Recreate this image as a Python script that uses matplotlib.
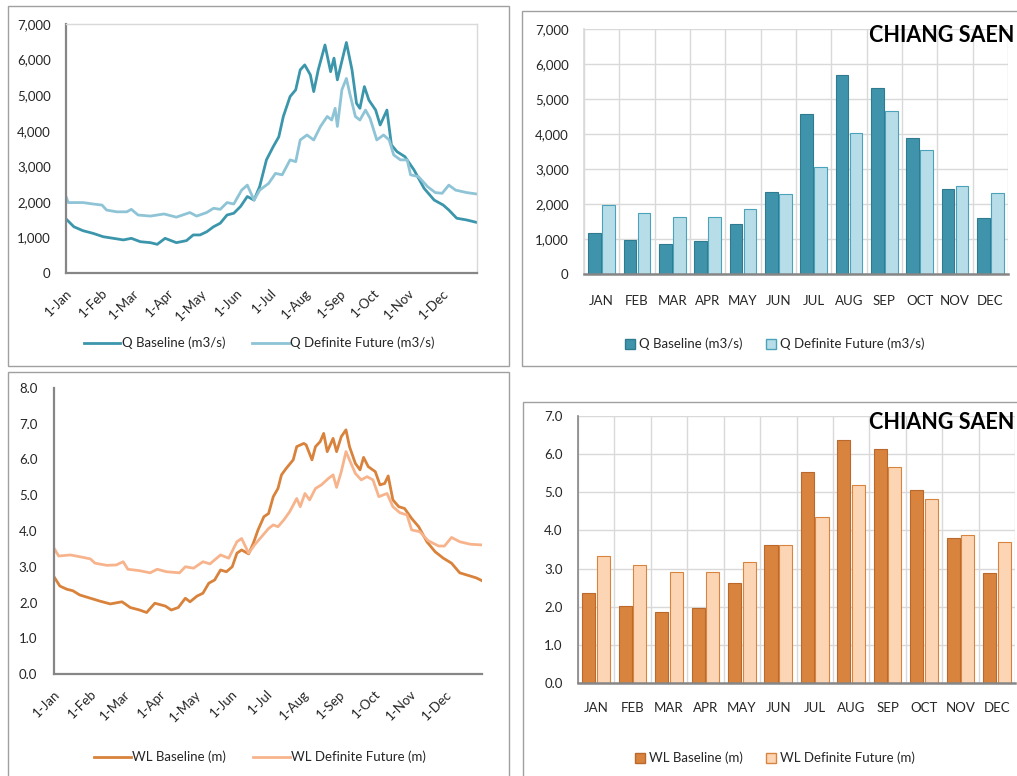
import matplotlib
matplotlib.use("Agg")
import matplotlib.pyplot as plt
from matplotlib.patches import Rectangle, Patch
from matplotlib.lines import Line2D
from matplotlib.ticker import FuncFormatter, MultipleLocator

plt.rcParams['font.family'] = ['Lato', 'DejaVu Sans']

# ---------------- data ----------------
months = ["JAN", "FEB", "MAR", "APR", "MAY", "JUN", "JUL", "AUG", "SEP", "OCT", "NOV", "DEC"]
date_labels = ["1-Jan", "1-Feb", "1-Mar", "1-Apr", "1-May", "1-Jun", "1-Jul", "1-Aug", "1-Sep", "1-Oct", "1-Nov", "1-Dec"]
date_ticks = [0, 31, 59, 90, 120, 151, 181, 212, 243, 273, 304, 334]

q_base_month = [1180, 980, 870, 935, 1440, 2345, 4575, 5700, 5325, 3890, 2430, 1590]
q_fut_month = [1965, 1745, 1620, 1620, 1850, 2290, 3060, 4030, 4670, 3535, 2505, 2315]
wl_base_month = [2.35, 2.02, 1.86, 1.97, 2.62, 3.63, 5.53, 6.37, 6.13, 5.07, 3.79, 2.89]
wl_fut_month = [3.32, 3.10, 2.92, 2.92, 3.16, 3.63, 4.36, 5.18, 5.67, 4.82, 3.87, 3.69]

q_base_day = [0, 7, 15, 24, 33, 42, 51, 58, 66, 75, 81, 88, 98, 107, 113, 119, 125, 131, 137, 143,
              149, 155, 161, 167, 172, 178, 184, 189, 193, 199, 204, 208, 212, 217, 220, 224, 230,
              235, 238, 241, 247, 249, 254, 258, 261, 265, 269, 275, 279, 285, 289, 294, 301, 309,
              318, 327, 335, 340, 347, 356, 365]
q_base_val = [1520, 1300, 1190, 1115, 1020, 975, 930, 975, 880, 853, 806, 975, 853, 910, 1070, 1070,
              1160, 1300, 1400, 1630, 1680, 1870, 2150, 2050, 2430, 3180, 3550, 3830, 4400, 4960,
              5150, 5710, 5850, 5570, 5100, 5710, 6410, 5660, 6040, 5430, 6220, 6480, 5710, 4770,
              4630, 5240, 4860, 4580, 4160, 4580, 3600, 3410, 3270, 2900, 2380, 2050, 1910, 1770,
              1540, 1490, 1420]

q_fut_day = [0, 2, 15, 24, 32, 36, 45, 54, 58, 64, 75, 87, 98, 110, 116, 125, 131, 137, 143, 149,
             156, 161, 167, 172, 180, 186, 192, 199, 204, 208, 214, 220, 226, 232, 236, 239, 241,
             245, 249, 252, 257, 261, 266, 270, 276, 282, 287, 291, 297, 303, 306, 313, 321, 328,
             334, 340, 346, 356, 365]
q_fut_val = [2150, 1980, 1980, 1940, 1910, 1770, 1720, 1720, 1790, 1630, 1600, 1660, 1570, 1700,
             1600, 1700, 1820, 1790, 1980, 1940, 2330, 2470, 2050, 2330, 2520, 2800, 2760, 3180,
             3130, 3740, 3880, 3740, 4120, 4400, 4300, 4630, 4120, 5150, 5470, 5050, 4400, 4300,
             4580, 4350, 3740, 3880, 3740, 3320, 3180, 3180, 2760, 2710, 2430, 2260, 2240, 2470,
             2330, 2260, 2220]

wl_base_day = [0, 5, 11, 16, 22, 31, 39, 48, 58, 65, 73, 79, 86, 95, 100, 106, 112, 116, 122, 127,
               132, 137, 142, 147, 152, 156, 160, 166, 170, 174, 179, 183, 187, 191, 194, 198, 204,
               207, 213, 215, 220, 223, 227, 230, 233, 238, 241, 245, 249, 252, 257, 261, 264, 268,
               274, 278, 282, 285, 289, 294, 299, 305, 311, 318, 325, 332, 339, 346, 355, 360, 365]
wl_base_val = [2.72, 2.46, 2.37, 2.33, 2.21, 2.12, 2.04, 1.96, 2.02, 1.86, 1.79, 1.72, 1.98, 1.90,
               1.79, 1.86, 2.12, 2.02, 2.18, 2.26, 2.54, 2.63, 2.91, 2.86, 3.00, 3.38, 3.47, 3.36,
               3.66, 4.03, 4.40, 4.49, 4.96, 5.19, 5.57, 5.75, 5.99, 6.36, 6.45, 6.41, 5.99, 6.36,
               6.50, 6.73, 6.22, 6.59, 6.22, 6.64, 6.83, 6.36, 5.89, 5.71, 6.06, 5.80, 5.66, 5.29,
               5.33, 5.54, 4.87, 4.68, 4.63, 4.35, 4.12, 3.70, 3.42, 3.24, 3.10, 2.83, 2.74, 2.69,
               2.61]

wl_fut_day = [0, 4, 14, 22, 31, 35, 45, 53, 59, 63, 73, 82, 88, 96, 107, 112, 119, 127, 133, 142,
              149, 156, 160, 166, 171, 177, 183, 187, 191, 196, 201, 207, 210, 214, 218, 223, 228,
              234, 238, 241, 245, 249, 252, 257, 262, 267, 272, 277, 284, 289, 295, 301, 305, 312,
              319, 328, 333, 339, 346, 355, 365]
wl_fut_val = [3.52, 3.30, 3.33, 3.28, 3.22, 3.10, 3.04, 3.05, 3.14, 2.93, 2.89, 2.83, 2.93, 2.86,
              2.83, 3.00, 2.96, 3.14, 3.08, 3.33, 3.24, 3.70, 3.79, 3.38, 3.61, 3.84, 4.07, 4.17,
              4.12, 4.31, 4.54, 4.91, 4.68, 5.05, 4.87, 5.19, 5.29, 5.47, 5.57, 5.22, 5.66, 6.22,
              5.99, 5.61, 5.43, 5.52, 5.43, 4.96, 5.05, 4.68, 4.51, 4.45, 4.03, 3.98, 3.73, 3.58,
              3.58, 3.82, 3.70, 3.63, 3.61]

# ---------------- style ----------------
TEAL = "#3B96AC"
TEAL_L = "#8EC4D6"
TEAL_BAR = "#3F94AB"
TEAL_BAR_EDGE = "#2E7B90"
TEAL_FUT_BAR = "#B7DEE8"
TEAL_FUT_EDGE = "#4AA3BA"
OR = "#D9823B"
OR_L = "#F7B48C"
OR_BAR = "#D9843E"
OR_BAR_EDGE = "#B8692B"
OR_FUT_BAR = "#FCD5B5"
OR_FUT_EDGE = "#D9843E"
TXT = "#262626"
GRID = "#D9D9D9"
AXIS = "#868686"
FS = 9.5

W, H = 1017, 776
fig = plt.figure(figsize=(W / 100, H / 100), dpi=100)
fig.patch.set_facecolor("white")


def ax_px(l, t, r, b):
    return fig.add_axes([l / W, 1 - b / H, (r - l) / W, (b - t) / H])


def box_px(l, t, r, b):
    fig.patches.append(Rectangle((l / W, 1 - b / H), (r - l) / W, (b - t) / H,
                                 transform=fig.transFigure, fill=False,
                                 edgecolor="#A0A0A0", lw=1.0))


# panel borders
box_px(8, 6, 509, 366)
box_px(522, 11, 1030, 366)
box_px(8, 372, 509, 790)
box_px(523, 402, 1030, 790)

thousands = FuncFormatter(lambda v, p: f"{int(v):,}")
onedec = FuncFormatter(lambda v, p: f"{v:.1f}")

# ---------------- top-left line chart ----------------
ax1 = ax_px(66, 24, 477, 273)
ax1.plot(q_base_day, q_base_val, color=TEAL, lw=2.0, solid_joinstyle="round")
ax1.plot(q_fut_day, q_fut_val, color=TEAL_L, lw=2.0, solid_joinstyle="round")
ax1.set_xlim(0, 365)
ax1.set_ylim(0, 7000)
ax1.yaxis.set_major_locator(MultipleLocator(1000))
ax1.yaxis.set_major_formatter(thousands)
ax1.set_xticks(date_ticks)
ax1.set_xticklabels(date_labels, rotation=45, ha="right", rotation_mode="anchor")
for s in ["top", "right"]:
    ax1.spines[s].set_color(GRID)
    ax1.spines[s].set_linewidth(1.0)
for s in ["left", "bottom"]:
    ax1.spines[s].set_color(AXIS)
    ax1.spines[s].set_linewidth(1.6)
ax1.tick_params(length=0, labelsize=FS, colors=TXT)
ax1.tick_params(axis="y", pad=11)
ax1.tick_params(axis="x", pad=10)
fig.legend(handles=[Line2D([], [], color=TEAL, lw=2), Line2D([], [], color=TEAL_L, lw=2)],
           labels=["Q Baseline (m3/s)", "Q Definite Future (m3/s)"],
           loc="center", bbox_to_anchor=(259 / W, 1 - 343 / H), ncol=2, frameon=False,
           fontsize=FS, handlelength=2.8, handletextpad=0.1, columnspacing=2.0,
           labelcolor=TXT)

# ---------------- bar chart helper ----------------
def bar_chart(ax, base, fut, cb, cbe, cf, cfe, ymax, step, fmt, left_spine_color, xpad):
    x = list(range(len(months)))
    ax.bar([i - 0.2 for i in x], base, width=0.36, color=cb, edgecolor=cbe, lw=0.8, zorder=3)
    ax.bar([i + 0.2 for i in x], fut, width=0.36, color=cf, edgecolor=cfe, lw=0.8, zorder=3)
    ax.set_xlim(-0.5, len(months) - 0.5)
    ax.set_ylim(0, ymax)
    ax.yaxis.set_major_locator(MultipleLocator(step))
    ax.yaxis.set_major_formatter(fmt)
    ax.set_xticks(x)
    ax.set_xticklabels(months)
    ax.set_xticks([i - 0.5 for i in range(len(months) + 1)], minor=True)
    ax.grid(axis="y", which="major", color=GRID, lw=1.0, zorder=0)
    ax.grid(axis="x", which="minor", color=GRID, lw=1.0, zorder=0)
    ax.tick_params(which="both", length=0)
    ax.tick_params(axis="y", labelsize=FS, colors=TXT, pad=11)
    ax.tick_params(axis="x", labelsize=FS, colors=TXT, pad=xpad)
    ax.spines["top"].set_visible(False)
    ax.spines["right"].set_visible(False)
    ax.spines["left"].set_color(left_spine_color)
    ax.spines["left"].set_linewidth(1.2)
    ax.spines["bottom"].set_color(AXIS)
    ax.spines["bottom"].set_linewidth(1.8)
    ax.spines["bottom"].set_zorder(4)


ax2 = ax_px(584, 29, 1008, 274)
bar_chart(ax2, q_base_month, q_fut_month, TEAL_BAR, TEAL_BAR_EDGE, TEAL_FUT_BAR, TEAL_FUT_EDGE,
          7000, 1000, thousands, GRID, 15)
fig.text(1014 / W, 1 - 35 / H, "CHIANG SAEN", fontsize=15.5, fontweight="bold", color="black",
         va="center", ha="right")
fig.legend(handles=[Patch(facecolor=TEAL_BAR, edgecolor=TEAL_BAR_EDGE),
                    Patch(facecolor=TEAL_FUT_BAR, edgecolor=TEAL_FUT_EDGE)],
           labels=["Q Baseline (m3/s)", "Q Definite Future (m3/s)"],
           loc="center", bbox_to_anchor=(775 / W, 1 - 344 / H), ncol=2, frameon=False,
           fontsize=FS, handlelength=0.75, handleheight=0.75, handletextpad=0.3,
           columnspacing=1.8, labelcolor=TXT)

# ---------------- bottom-left line chart ----------------
ax3 = ax_px(54, 388, 482, 674)
ax3.plot(wl_base_day, wl_base_val, color=OR, lw=2.0, solid_joinstyle="round")
ax3.plot(wl_fut_day, wl_fut_val, color=OR_L, lw=2.0, solid_joinstyle="round")
ax3.set_xlim(0, 365)
ax3.set_ylim(0, 8)
ax3.yaxis.set_major_locator(MultipleLocator(1))
ax3.yaxis.set_major_formatter(onedec)
ax3.set_xticks(date_ticks)
ax3.set_xticklabels(date_labels, rotation=45, ha="right", rotation_mode="anchor")
ax3.spines["top"].set_visible(False)
ax3.spines["right"].set_visible(False)
for s in ["left", "bottom"]:
    ax3.spines[s].set_color(AXIS)
    ax3.spines[s].set_linewidth(1.6)
ax3.tick_params(length=0, labelsize=FS, colors=TXT)
ax3.tick_params(axis="y", pad=12)
ax3.tick_params(axis="x", pad=10)
fig.legend(handles=[Line2D([], [], color=OR, lw=2), Line2D([], [], color=OR_L, lw=2)],
           labels=["WL Baseline (m)", "WL Definite Future (m)"],
           loc="center", bbox_to_anchor=(260 / W, 1 - 757 / H), ncol=2, frameon=False,
           fontsize=FS, handlelength=2.8, handletextpad=0.1, columnspacing=2.0,
           labelcolor=TXT)

# ---------------- bottom-right bar chart ----------------
ax4 = ax_px(578, 416, 1015, 683)
bar_chart(ax4, wl_base_month, wl_fut_month, OR_BAR, OR_BAR_EDGE, OR_FUT_BAR, OR_FUT_EDGE,
          7, 1, onedec, AXIS, 14)
fig.text(1014 / W, 1 - 423 / H, "CHIANG SAEN", fontsize=15.5, fontweight="bold", color="black",
         va="center", ha="right")
fig.legend(handles=[Patch(facecolor=OR_BAR, edgecolor=OR_BAR_EDGE),
                    Patch(facecolor=OR_FUT_BAR, edgecolor=OR_FUT_EDGE)],
           labels=["WL Baseline (m)", "WL Definite Future (m)"],
           loc="center", bbox_to_anchor=(775 / W, 1 - 758 / H), ncol=2, frameon=False,
           fontsize=FS, handlelength=0.75, handleheight=0.75, handletextpad=0.3,
           columnspacing=1.8, labelcolor=TXT)

fig.savefig("out.png", dpi=100, facecolor="white")
